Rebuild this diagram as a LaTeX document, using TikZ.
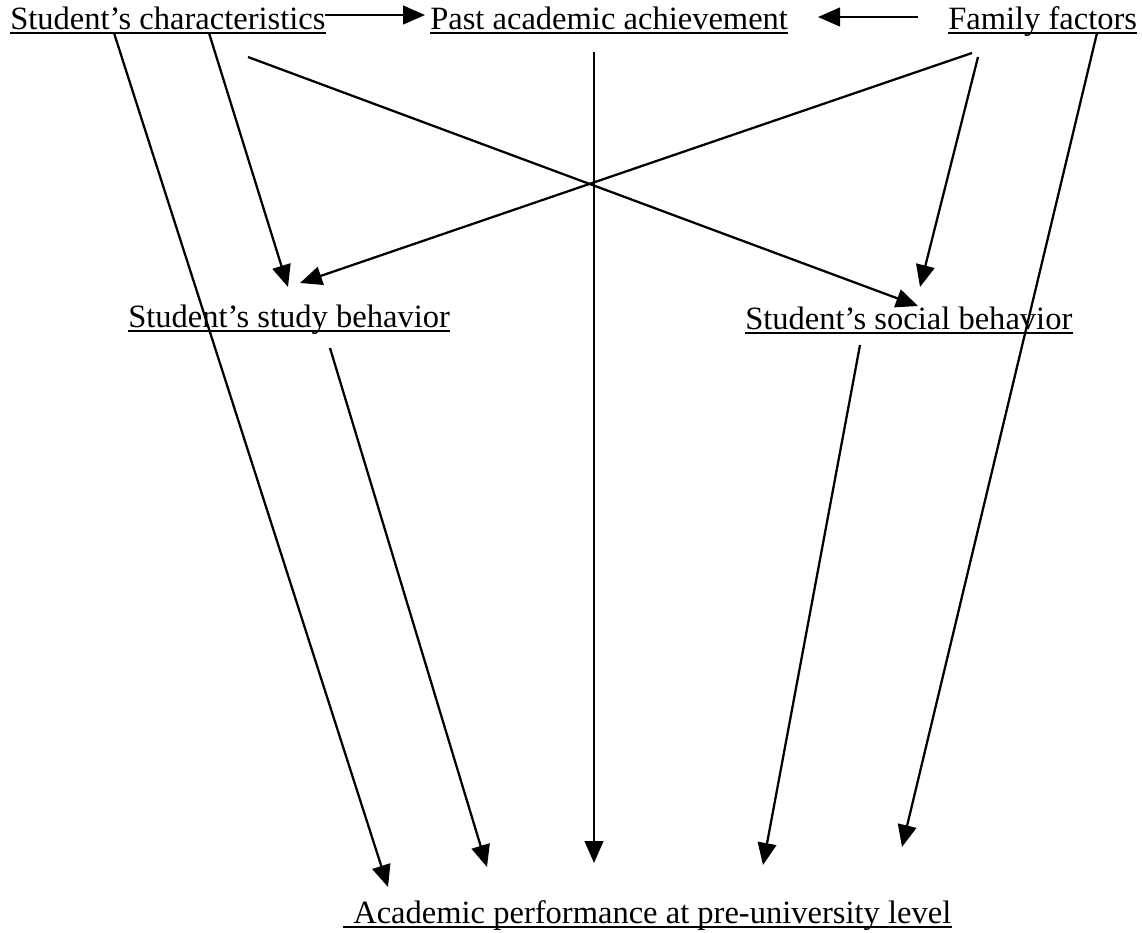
\documentclass[tikz,border=0pt]{standalone}
\usepackage{fontspec}
\setmainfont{Liberation Serif}
\usetikzlibrary{arrows.meta}
\begin{document}
\begin{tikzpicture}[x=0.75pt,y=-0.75pt,
  lbl/.style={inner sep=0pt,anchor=base west,font=\fontsize{24.4}{29}\selectfont},
  conn/.style={line width=1.7pt,-{Triangle[length=16.5pt,width=14pt]}},
  ul/.style={line width=1.3pt}]
\useasboundingbox (0,0) rectangle (1142,932);
% labels
\node[lbl] (sc)  at (10,29)  {Student’s characteristics};
\node[lbl] (pa)  at (430,29) {Past academic achievement};
\node[lbl] (ff)  at (948,29) {Family factors};
\node[lbl] (sb)  at (128,327) {Student’s study behavior};
\node[lbl] (sob) at (745,329) {Student’s social behavior};
\node[lbl] (ap)  at (353,923) {Academic performance at pre-university level};
% underlines
\foreach \n in {sc,pa,ff,sb,sob}
  \draw[ul] ([yshift=-3.2pt]\n.base west) -- ([yshift=-3.2pt]\n.base east);
\draw[ul] ([xshift=-7.5pt,yshift=-3.2pt]ap.base west) -- ([yshift=-3.2pt]ap.base east);
% connector end points
\coordinate (scR)  at (325,15);
\coordinate (paL)  at (425,15);
\coordinate (ffL)  at (918,17);
\coordinate (paR)  at (818,17);
\coordinate (sc1)  at (114,33);
\coordinate (sc2)  at (209,33);
\coordinate (sc3)  at (248,57);
\coordinate (pa1)  at (594,52);
\coordinate (ff1)  at (972,53);
\coordinate (ff2)  at (978,57);
\coordinate (ff3)  at (1097,33);
\coordinate (sbT1) at (288,287);
\coordinate (sbT2) at (300,283);
\coordinate (sobT1) at (918,306);
\coordinate (sobT2) at (920,287);
\coordinate (sbB)  at (330,348);
\coordinate (sobB) at (860,345);
\coordinate (ap1)  at (388,887);
\coordinate (ap2)  at (487,867);
\coordinate (ap3)  at (594,863);
\coordinate (ap4)  at (763,865);
\coordinate (ap5)  at (902,847);
% connectors
\draw[conn] (scR) -- (paL);
\draw[conn] (ffL) -- (paR);
\draw[conn] (sc1) -- (ap1);
\draw[conn] (sc2) -- (sbT1);
\draw[conn] (sc3) -- (sobT1);
\draw[conn] (pa1) -- (ap3);
\draw[conn] (ff1) -- (sbT2);
\draw[conn] (ff2) -- (sobT2);
\draw[conn] (ff3) -- (ap5);
\draw[conn] (sbB) -- (ap2);
\draw[conn] (sobB) -- (ap4);
\end{tikzpicture}
\end{document}
